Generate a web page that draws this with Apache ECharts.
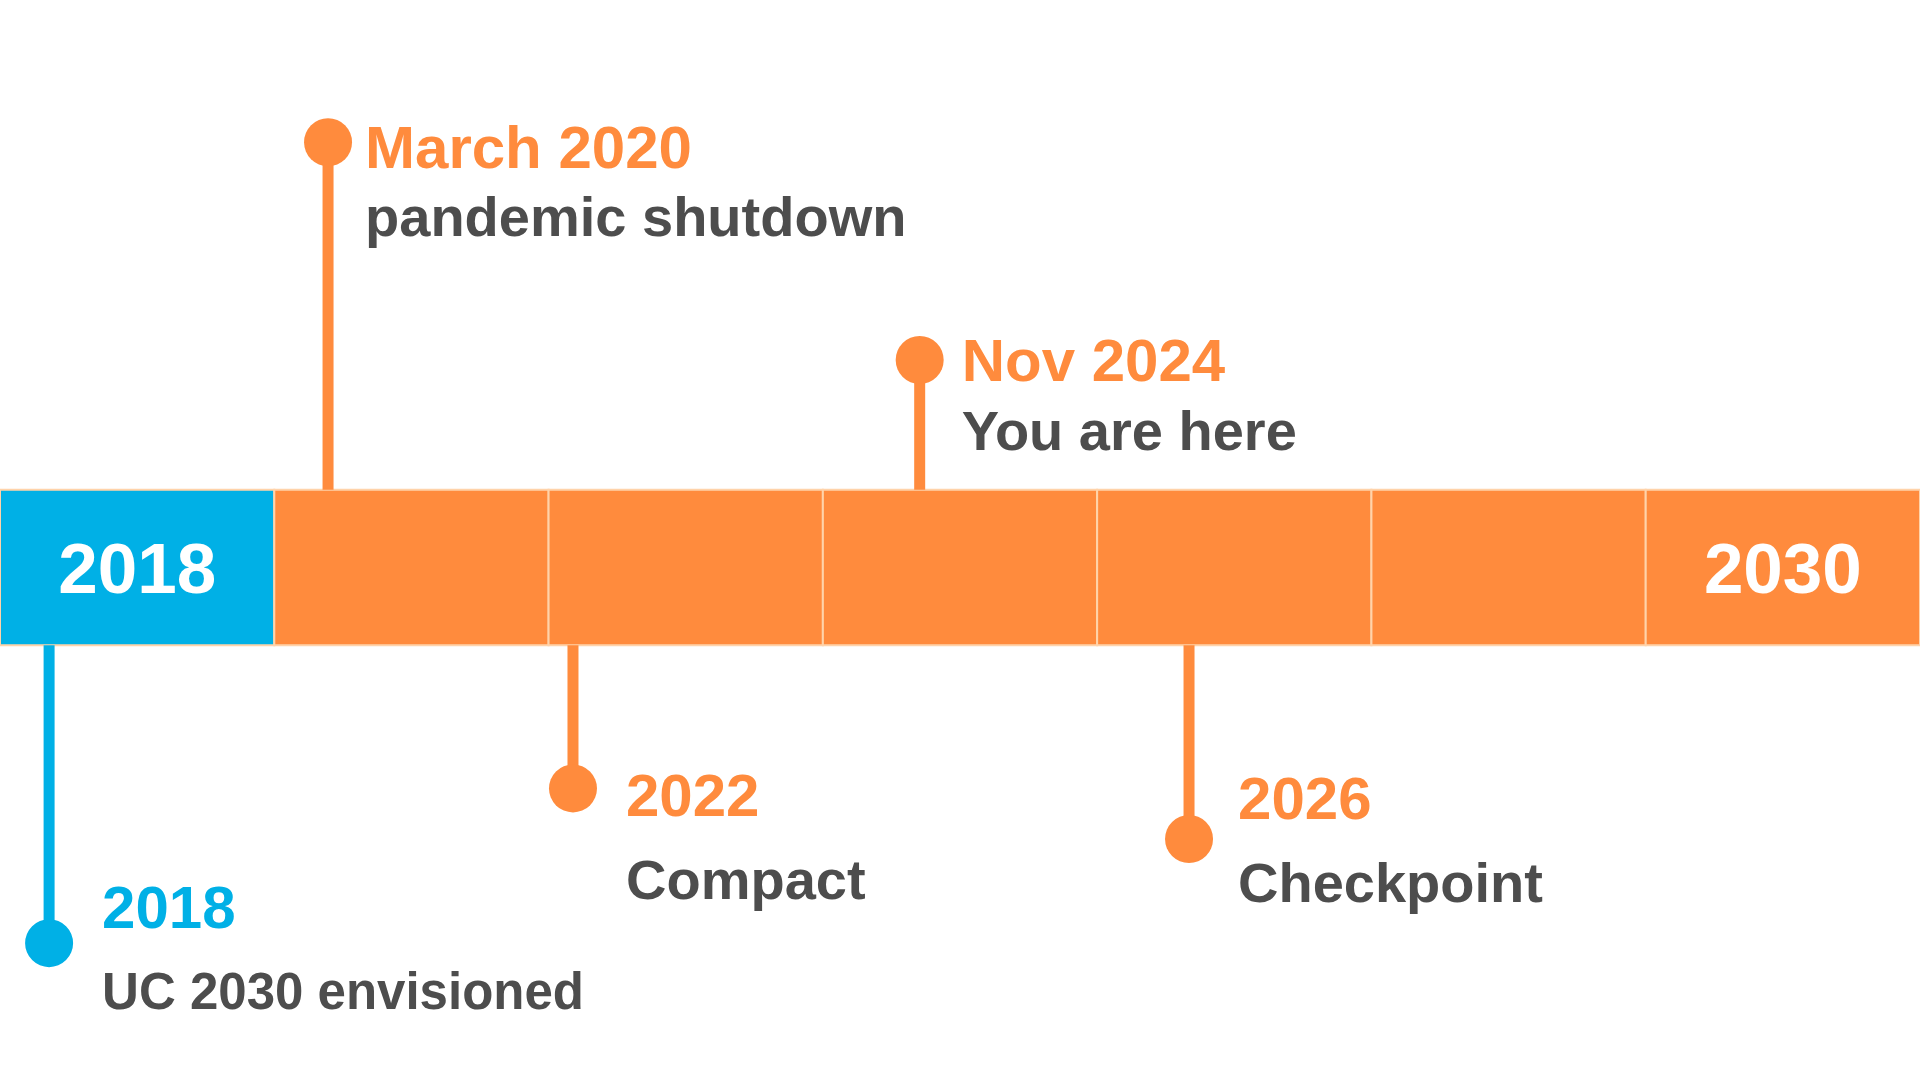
<!DOCTYPE html>
<html>
<head>
<meta charset="utf-8">
<script src="https://cdn.jsdelivr.net/npm/echarts@6/dist/echarts.min.js"></script>
<style>
html,body{margin:0;padding:0;background:#fff;}
#chart{width:1920px;height:1080px;}
</style>
</head>
<body>
<div id="chart"></div>
<script>
// ---- data ----
const segmentStarts = [0, 1, 2, 3, 4, 5, 6];
const segmentLabels = ['2018', '', '', '', '', '', '2030'];
const eventTitles = ['2018', 'March 2020', '2022', 'Nov 2024', '2026'];
const eventNotes = ['UC 2030 envisioned', 'pandemic shutdown', 'Compact', 'You are here', 'Checkpoint'];
const eventPos = [0.179, 1.196, 2.089, 3.353, 4.335];
const eventDotLevel = [-4.83, 5.47, -2.84, 2.67, -3.49];
const eventTitleLevel = [-4.37, 5.41, -2.93, 2.66, -2.97];

// ---- styles ----
const BLUE = '#00B0E6';
const ORANGE = '#FF8B3D';
const GRAY = '#4D4D4D';
const DIVIDER = '#FFD3AA';
const FONT = '"Liberation Sans", Arial, sans-serif';
const segmentColors = [BLUE, ORANGE, ORANGE, ORANGE, ORANGE, ORANGE, ORANGE];
const eventColors = [BLUE, ORANGE, ORANGE, ORANGE, ORANGE];
const labelGap = [53, 37, 53, 42, 49];
const noteSize = [51, 56, 56, 56, 56];
const noteGapAbove = 70;
const noteGapBelow = 84;
const textShift = 4;

const chart = echarts.init(document.getElementById('chart'));

const option = {
  animation: false,
  grid: { left: 0, right: 0, top: 0, bottom: 0 },
  xAxis: { type: 'value', min: 0, max: 7, show: false },
  yAxis: { type: 'value', min: -6.59, max: 7.30, show: false },
  series: [
    {
      type: 'custom',
      z: 2,
      data: segmentStarts.map((s, i) => [s, 0, i]),
      encode: { x: 0, y: 1 },
      renderItem: function (params, api) {
        const i = params.dataIndex;
        const s = api.value(0);
        const p0 = api.coord([s, 1]);
        const p1 = api.coord([s + 1, -1]);
        const children = [{
          type: 'rect',
          shape: { x: p0[0], y: p0[1], width: p1[0] - p0[0], height: p1[1] - p0[1] },
          style: { fill: segmentColors[i], stroke: DIVIDER, lineWidth: 2 }
        }];
        if (segmentLabels[i]) {
          children.push({
            type: 'text',
            x: (p0[0] + p1[0]) / 2,
            y: (p0[1] + p1[1]) / 2 + 2 + textShift,
            style: {
              text: segmentLabels[i], fill: '#FFFFFF',
              fontSize: 71, fontWeight: 'bold', fontFamily: FONT,
              align: 'center', verticalAlign: 'middle'
            }
          });
        }
        return { type: 'group', children: children };
      }
    },
    {
      type: 'custom',
      z: 3,
      data: eventPos.map((p, i) => [p, eventDotLevel[i], eventTitleLevel[i]]),
      encode: { x: 0, y: 1 },
      renderItem: function (params, api) {
        const i = params.dataIndex;
        const x = api.value(0);
        const dl = api.value(1);
        const tl = api.value(2);
        const up = dl > 0;
        const dot = api.coord([x, dl]);
        const edge = api.coord([x, up ? 1 : -1]);
        const title = api.coord([x, tl]);
        const color = eventColors[i];
        const tx = dot[0] + labelGap[i];
        const ty = title[1] + textShift;
        return {
          type: 'group',
          children: [
            {
              type: 'line',
              shape: { x1: edge[0], y1: edge[1], x2: dot[0], y2: dot[1] },
              style: { stroke: color, lineWidth: 11 }
            },
            {
              type: 'circle',
              shape: { cx: dot[0], cy: dot[1], r: 24 },
              style: { fill: color }
            },
            {
              type: 'text', x: tx, y: ty,
              style: {
                text: eventTitles[i], fill: color,
                fontSize: 60, fontWeight: 'bold', fontFamily: FONT,
                align: 'left', verticalAlign: 'middle'
              }
            },
            {
              type: 'text', x: tx, y: ty + (up ? noteGapAbove : noteGapBelow),
              style: {
                text: eventNotes[i], fill: GRAY,
                fontSize: noteSize[i], fontWeight: 'bold', fontFamily: FONT,
                align: 'left', verticalAlign: 'middle'
              }
            }
          ]
        };
      }
    }
  ]
};
chart.setOption(option);
</script>
</body>
</html>
